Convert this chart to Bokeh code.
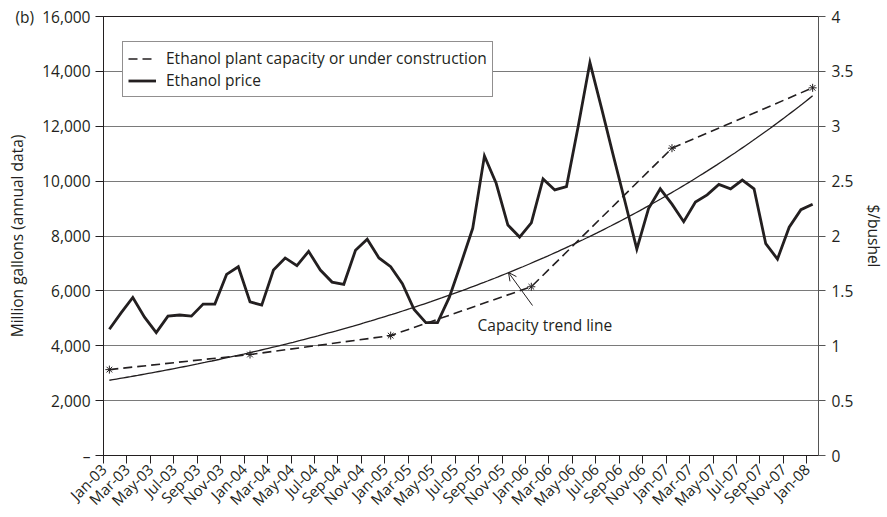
import math
import numpy as np
from bokeh.plotting import figure
from bokeh.models import (Range1d, LinearAxis, FixedTicker, Legend, LegendItem,
                          Label, Arrow, OpenHead)
from bokeh.embed import file_html
from bokeh.resources import INLINE

# ---------------- data ----------------
months = ["Jan-03", "Feb-03", "Mar-03", "Apr-03", "May-03", "Jun-03", "Jul-03", "Aug-03", "Sep-03", "Oct-03", "Nov-03", "Dec-03",
          "Jan-04", "Feb-04", "Mar-04", "Apr-04", "May-04", "Jun-04", "Jul-04", "Aug-04", "Sep-04", "Oct-04", "Nov-04", "Dec-04",
          "Jan-05", "Feb-05", "Mar-05", "Apr-05", "May-05", "Jun-05", "Jul-05", "Aug-05", "Sep-05", "Oct-05", "Nov-05", "Dec-05",
          "Jan-06", "Feb-06", "Mar-06", "Apr-06", "May-06", "Jun-06", "Jul-06", "Aug-06", "Sep-06", "Oct-06", "Nov-06", "Dec-06",
          "Jan-07", "Feb-07", "Mar-07", "Apr-07", "May-07", "Jun-07", "Jul-07", "Aug-07", "Sep-07", "Oct-07", "Nov-07", "Dec-07",
          "Jan-08"]

# Ethanol price, $/bushel (right axis)
price = [1.15, 1.30, 1.44, 1.26, 1.12, 1.27, 1.28, 1.27, 1.38, 1.38, 1.65, 1.72,
         1.40, 1.37, 1.69, 1.80, 1.73, 1.86, 1.69, 1.58, 1.56, 1.87, 1.97, 1.80,
         1.72, 1.565, 1.33, 1.21, 1.21, 1.44, 1.75, 2.07, 2.73, 2.48, 2.10, 1.99,
         2.12, 2.52, 2.42, 2.45, 3.00, 3.58, 3.16, 2.73, 2.31, 1.88, 2.25, 2.43,
         2.29, 2.13, 2.31, 2.375, 2.47, 2.43, 2.51, 2.43, 1.93, 1.79, 2.08, 2.24,
         2.29]

# Ethanol plant capacity or under construction, million gallons (left axis)
capacity_months = ["Jan-03", "Jan-04", "Jan-05", "Jan-06", "Jan-07", "Jan-08"]
capacity = [3130, 3680, 4370, 6150, 11200, 13400]

tick_months = ["Jan-03", "Mar-03", "May-03", "Jul-03", "Sep-03", "Nov-03",
               "Jan-04", "Mar-04", "May-04", "Jul-04", "Sep-04", "Nov-04",
               "Jan-05", "Mar-05", "May-05", "Jul-05", "Sep-05", "Nov-05",
               "Jan-06", "Mar-06", "May-06", "Jul-06", "Sep-06", "Nov-06",
               "Jan-07", "Mar-07", "May-07", "Jul-07", "Sep-07", "Nov-07",
               "Jan-08"]

panel_tag = "(b)"
left_ticks = [0, 2000, 4000, 6000, 8000, 10000, 12000, 14000, 16000]
left_labels = ["\u2013", "2,000", "4,000", "6,000", "8,000", "10,000", "12,000", "14,000", "16,000"]
right_ticks = [0, 0.5, 1, 1.5, 2, 2.5, 3, 3.5, 4]
right_labels = ["0", "0.5", "1", "1.5", "2", "2.5", "3", "3.5", "4"]

# ---------------- derived positions ----------------
# each month occupies one slot; points sit in the middle of their slot
price_x = [months.index(m) + 0.5 for m in months]
cap_x = [months.index(m) + 0.5 for m in capacity_months]

# exponential trend line fitted to the capacity points (as in the original)
b, a = np.polyfit(cap_x, np.log(capacity), 1)
trend_x = np.linspace(cap_x[0], cap_x[-1], 200)
trend_y = np.exp(a + b * trend_x)

FONT = "Open Sans"
INK = "#231f20"
FS = "15.5px"

p = figure(frame_width=715, frame_height=439,
           x_range=Range1d(0, len(months)), y_range=Range1d(0, 16000),
           output_backend="svg", toolbar_location=None,
           min_border_left=103, min_border_right=68, min_border_top=16, min_border_bottom=54,
           background_fill_color="white", border_fill_color="white",
           outline_line_color=INK, outline_line_width=1)
p.extra_y_ranges = {"price": Range1d(0, 4)}

# grid
p.xgrid.visible = False
p.ygrid.ticker = FixedTicker(ticks=left_ticks)
p.ygrid.grid_line_color = "#7a7a7a"
p.ygrid.grid_line_width = 1

# bottom axis
xa = p.xaxis[0]
xa.ticker = FixedTicker(ticks=[months.index(m) for m in tick_months])
xa.major_label_overrides = {months.index(m): m for m in tick_months}
xa.major_label_orientation = math.pi / 4
xa.major_tick_out = 8
xa.major_tick_in = 0
xa.minor_tick_line_color = None
xa.axis_line_color = INK
xa.major_tick_line_color = INK
xa.major_label_text_font = FONT
xa.major_label_text_font_size = "15px"
xa.major_label_text_color = INK
xa.major_label_standoff = 3

# left axis (the panel tag "(b)" sits on the top tick row, as in the source)
left_override = dict(zip(left_ticks, left_labels))
left_override[left_ticks[-1]] = panel_tag + "\u00a0\u00a0" + left_labels[-1]
ya = p.yaxis[0]
ya.ticker = FixedTicker(ticks=left_ticks)
ya.major_label_overrides = left_override
ya.major_tick_out = 8
ya.major_tick_in = 0
ya.minor_tick_line_color = None
ya.axis_line_color = INK
ya.major_tick_line_color = INK
ya.major_label_text_font = FONT
ya.major_label_text_font_size = FS
ya.major_label_text_color = INK
ya.major_label_standoff = 5
ya.axis_label = "Million gallons (annual data)"
ya.axis_label_text_font = FONT
ya.axis_label_text_font_size = FS
ya.axis_label_text_font_style = "normal"
ya.axis_label_text_color = INK
ya.axis_label_standoff = -16

# right axis
ra = LinearAxis(y_range_name="price", ticker=FixedTicker(ticks=right_ticks))
ra.major_label_overrides = dict(zip(right_ticks, right_labels))
ra.major_tick_out = 7
ra.major_tick_in = 0
ra.minor_tick_line_color = None
ra.axis_line_color = "#555555"
ra.major_tick_line_color = "#555555"
ra.major_label_text_font = FONT
ra.major_label_text_font_size = FS
ra.major_label_text_color = INK
ra.major_label_standoff = 6
ra.axis_label = "$/bushel"
ra.axis_label_text_font = FONT
ra.axis_label_text_font_size = FS
ra.axis_label_text_font_style = "normal"
ra.axis_label_text_color = INK
ra.axis_label_standoff = 7
p.add_layout(ra, "right")

# glyphs
p.line(trend_x, trend_y, line_color=INK, line_width=1.3)
cap_line = p.line(cap_x, capacity, line_color=INK, line_width=1.6, line_dash="9 5")
p.scatter(cap_x, capacity, marker="asterisk", size=8, line_color=INK, line_width=1)
price_line = p.line(price_x, price, y_range_name="price", line_color=INK,
                    line_width=2.8, line_join="miter")

# legend
legend = Legend(items=[LegendItem(label="Ethanol plant capacity or under construction", renderers=[cap_line]),
                       LegendItem(label="Ethanol price", renderers=[price_line])],
                location=(19, 358), margin=0, padding=5, spacing=0,
                label_height=19, glyph_height=19, glyph_width=28, label_standoff=10,
                label_text_font=FONT, label_text_font_size=FS, label_text_color=INK,
                border_line_color=INK, border_line_width=1, background_fill_color="white",
                background_fill_alpha=1.0)
p.add_layout(legend)

# annotations
p.add_layout(Label(x=374, y=131, x_units="screen", y_units="screen", text="Capacity trend line",
                   text_baseline="middle", text_font=FONT, text_font_size=FS, text_color=INK))
p.add_layout(Arrow(end=OpenHead(size=8, line_width=1, line_color=INK),
                   x_start=429, y_start=150, x_end=405, y_end=183,
                   start_units="screen", end_units="screen", line_width=1, line_color=INK))

open("out.html", "w").write(file_html(p, INLINE))
